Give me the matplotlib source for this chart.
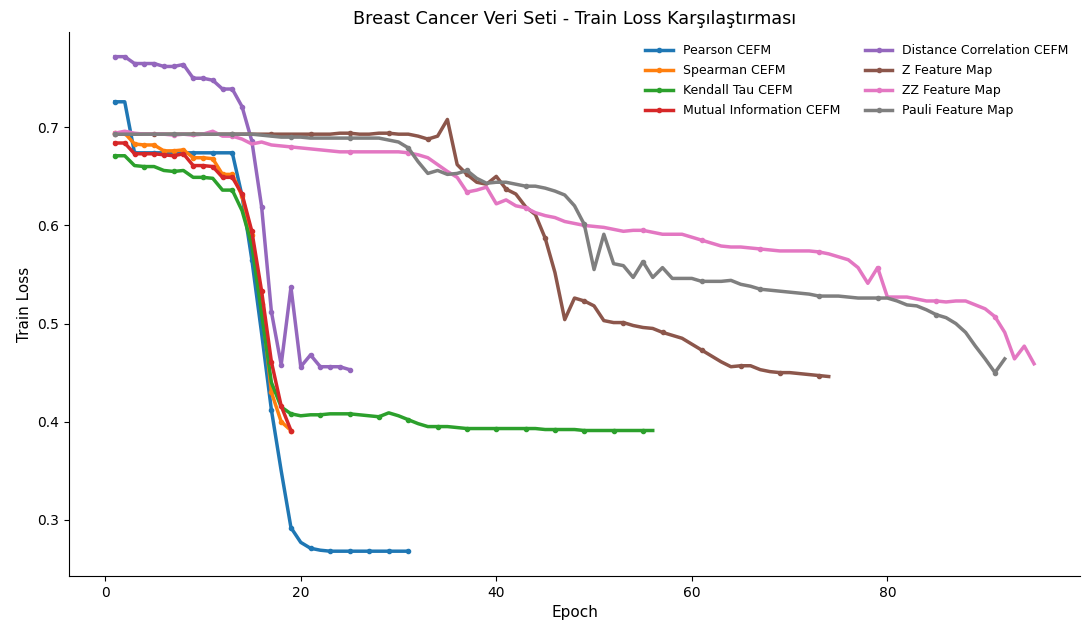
import numpy as np
import matplotlib.pyplot as plt

# Train loss values per epoch
pearson = [0.726, 0.726, 0.674, 0.674, 0.674, 0.674, 0.674, 0.674, 0.674, 0.674,
           0.674, 0.674, 0.674, 0.630, 0.565, 0.490, 0.412, 0.350, 0.292, 0.277,
           0.271, 0.269, 0.268, 0.268, 0.268, 0.268, 0.268, 0.268, 0.268, 0.268,
           0.268]
spearman = [0.694, 0.694, 0.683, 0.682, 0.682, 0.676, 0.676, 0.677, 0.669, 0.669,
            0.668, 0.652, 0.652, 0.630, 0.590, 0.520, 0.430, 0.400, 0.391]
kendall = [0.671, 0.671, 0.661, 0.660, 0.660, 0.656, 0.655, 0.656, 0.649, 0.649,
           0.648, 0.636, 0.636, 0.615, 0.580, 0.510, 0.440, 0.415, 0.408, 0.406,
           0.407, 0.407, 0.408, 0.408, 0.408, 0.407, 0.406, 0.405, 0.409, 0.406,
           0.402, 0.398, 0.395, 0.395, 0.395, 0.394, 0.393, 0.393, 0.393, 0.393,
           0.393, 0.393, 0.393, 0.393, 0.392, 0.392, 0.392, 0.392, 0.391, 0.391,
           0.391, 0.391, 0.391, 0.391, 0.391, 0.391]
mutual_info = [0.684, 0.684, 0.673, 0.673, 0.673, 0.672, 0.671, 0.673, 0.661, 0.661,
               0.660, 0.649, 0.649, 0.632, 0.594, 0.533, 0.461, 0.416, 0.391]
distance_corr = [0.772, 0.772, 0.765, 0.765, 0.765, 0.762, 0.762, 0.764, 0.750, 0.750,
                 0.748, 0.739, 0.739, 0.721, 0.686, 0.619, 0.512, 0.458, 0.537, 0.456,
                 0.468, 0.456, 0.456, 0.456, 0.453]
z_map = [0.693, 0.693, 0.693, 0.693, 0.693, 0.693, 0.693, 0.693, 0.693, 0.693,
         0.693, 0.693, 0.693, 0.693, 0.693, 0.693, 0.693, 0.693, 0.693, 0.693,
         0.693, 0.693, 0.693, 0.694, 0.694, 0.693, 0.693, 0.694, 0.694, 0.693,
         0.693, 0.691, 0.688, 0.691, 0.708, 0.662, 0.652, 0.644, 0.642, 0.650,
         0.637, 0.632, 0.619, 0.611, 0.587, 0.552, 0.504, 0.526, 0.523, 0.518,
         0.503, 0.501, 0.501, 0.498, 0.496, 0.495, 0.491, 0.488, 0.485, 0.479,
         0.473, 0.467, 0.461, 0.456, 0.457, 0.457, 0.453, 0.451, 0.450, 0.450,
         0.449, 0.448, 0.447, 0.446]
zz_map = [0.694, 0.696, 0.694, 0.693, 0.693, 0.693, 0.692, 0.693, 0.692, 0.693,
          0.696, 0.691, 0.691, 0.688, 0.683, 0.685, 0.682, 0.681, 0.680, 0.679,
          0.678, 0.677, 0.676, 0.675, 0.675, 0.675, 0.675, 0.675, 0.675, 0.675,
          0.674, 0.672, 0.669, 0.662, 0.655, 0.649, 0.634, 0.636, 0.639, 0.622,
          0.626, 0.620, 0.618, 0.613, 0.610, 0.608, 0.604, 0.602, 0.600, 0.599,
          0.598, 0.596, 0.594, 0.595, 0.595, 0.593, 0.591, 0.591, 0.591, 0.588,
          0.585, 0.582, 0.579, 0.578, 0.578, 0.577, 0.576, 0.575, 0.574, 0.574,
          0.574, 0.574, 0.573, 0.571, 0.568, 0.565, 0.557, 0.541, 0.557, 0.527,
          0.527, 0.527, 0.525, 0.523, 0.523, 0.522, 0.523, 0.523, 0.519, 0.515,
          0.507, 0.491, 0.464, 0.477, 0.459]
pauli_map = [0.693, 0.693, 0.693, 0.693, 0.693, 0.693, 0.693, 0.693, 0.693, 0.693,
             0.693, 0.693, 0.693, 0.693, 0.693, 0.692, 0.691, 0.690, 0.690, 0.690,
             0.689, 0.689, 0.689, 0.689, 0.689, 0.689, 0.689, 0.689, 0.687, 0.685,
             0.679, 0.665, 0.653, 0.656, 0.652, 0.653, 0.656, 0.648, 0.643, 0.644,
             0.644, 0.642, 0.640, 0.640, 0.638, 0.635, 0.631, 0.620, 0.601, 0.555,
             0.591, 0.561, 0.559, 0.547, 0.563, 0.547, 0.557, 0.546, 0.546, 0.546,
             0.543, 0.543, 0.543, 0.544, 0.540, 0.538, 0.535, 0.534, 0.533, 0.532,
             0.531, 0.530, 0.528, 0.528, 0.528, 0.527, 0.526, 0.526, 0.526, 0.526,
             0.523, 0.519, 0.518, 0.514, 0.509, 0.506, 0.500, 0.491, 0.477, 0.464,
             0.450, 0.464]

labels = ['Pearson CEFM', 'Spearman CEFM', 'Kendall Tau CEFM', 'Mutual Information CEFM',
          'Distance Correlation CEFM', 'Z Feature Map', 'ZZ Feature Map', 'Pauli Feature Map']
series = [pearson, spearman, kendall, mutual_info, distance_corr, z_map, zz_map, pauli_map]


fig = plt.figure(figsize=(10.85, 6.26), dpi=100)
ax = fig.add_axes([0.0636, 0.080, 0.9318, 0.869])

for label, losses in zip(labels, series):
    epochs = np.arange(1, len(losses) + 1)
    ax.plot(epochs, losses, marker='o', markersize=3, linewidth=2.5,
            markevery=max(1, len(losses) // 15), label=label)

ax.set_title('Breast Cancer Veri Seti - Train Loss Karşılaştırması', fontsize=12.7)
ax.set_xlabel('Epoch', fontsize=11)
ax.set_ylabel('Train Loss', fontsize=11)
ax.set_xticks([0, 20, 40, 60, 80])
ax.spines['top'].set_visible(False)
ax.spines['right'].set_visible(False)
ax.legend(ncol=2, frameon=False, loc='upper right', fontsize=9,
          bbox_to_anchor=(1.0, 0.998), handlelength=2.2, labelspacing=0.55)

fig.savefig('out.png')
